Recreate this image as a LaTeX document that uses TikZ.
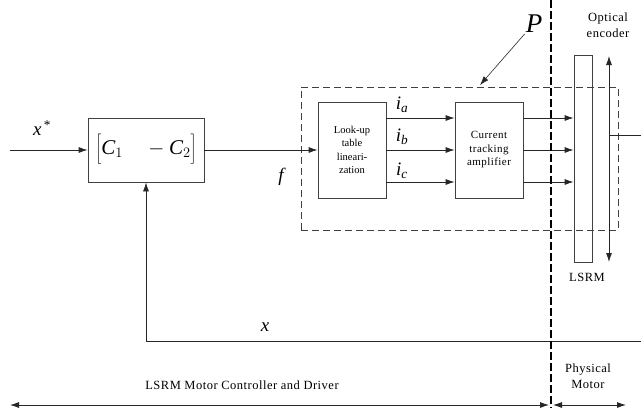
\documentclass[tikz,border=0pt]{standalone}
\usepackage{fontspec}
\setmainfont{Liberation Serif}
\newfontfamily\spacedfont[LetterSpace=4]{Liberation Serif}
\usepackage{tikz}
\usetikzlibrary{positioning, arrows.meta}

\begin{document}
\begin{tikzpicture}[
  x=1pt, y=-1pt,
  >={Latex[length=9pt,width=6pt]},
  block/.style={rectangle, draw=black!75, line width=0.8pt, align=center, inner sep=0pt},
  wire/.style={draw=black!85, line width=0.8pt},
  sig/.style={wire, ->},
  lbl/.style={font=\fontsize{12.5}{16.5}\spacedfont, align=center},
  var/.style={font=\fontsize{19}{19}\selectfont\itshape, inner sep=1pt}
]
\useasboundingbox (0,0) rectangle (641,408);

% Plant boundary
\node[draw=black!75, line width=0.8pt, dash pattern=on 7pt off 4pt, minimum width=317pt, minimum height=143pt, inner sep=0pt] (pbox) at (459.5,158.5) {};

% Controller
\node[block, minimum width=116pt, minimum height=64pt, font=\fontsize{21}{21}\selectfont] (ctrl) at (146,150) {$\left[\vrule height 19pt depth 11pt width 0pt\mbox{\itshape C}_1\quad -\mbox{\itshape C}_2\right]$};

% Look-up table
\node[block, minimum width=68pt, minimum height=96pt, font=\fontsize{10.5}{13.5}\selectfont] (lut) at (352,150) {Look-up\\table\\lineari-\\zation};

% Amplifier
\node[block, minimum width=68pt, minimum height=96pt, font=\fontsize{11}{13.5}\spacedfont] (amp) at (489,150) {Current\\tracking\\amplifier};

% Motor
\node[block, minimum width=18pt, minimum height=207pt] (lsrm) at (583,158.5) {};

% Signal names
\node[var] (xref) at (42,128) {x\textsuperscript{\upshape\,*}};
\node[var] (flbl) at (281,177) {f};
\node[var] (ialbl) at (402,105) {i\textsubscript{a}};
\node[var] (iblbl) at (402,137) {i\textsubscript{b}};
\node[var] (iclbl) at (402,171) {i\textsubscript{c}};
\node[var, font=\fontsize{27}{27}\selectfont\itshape] (plbl) at (534,24) {P};
\node[var] (xlbl) at (265,327) {x};

% Texts
\node[lbl] (enclbl) at (608,25) {Optical\\encoder};
\node[lbl] (lsrmlbl) at (587,277) {LSRM};
\node[lbl] (physlbl) at (588,376) {Physical\\Motor};
\node[lbl] (drvlbl) at (242,385) {LSRM Motor Controller and Driver};

% Free ends
\coordinate (xin) at (10,150);
\coordinate (ptip) at (480,85);
\coordinate (enctop) at (609,56);
\coordinate (encbot) at (609,262);
\coordinate (encout) at (609,135);
\coordinate (outr) at (641,135);
\coordinate (fbr) at (641,341);
\coordinate (divtop) at (551,0);
\coordinate (divbot) at (551,408);
\coordinate (spanl) at (10,405);
\coordinate (spanml) at (549,405);
\coordinate (spanmr) at (553,405);
\coordinate (spanr) at (626,405);

% Edges
\draw[sig] (xin) -- (ctrl);
\draw[sig] (ctrl) -- (lut);
\draw[sig] ([yshift=32pt]lut.east) -- ([yshift=32pt]amp.west);
\draw[sig] (lut.east) -- (amp.west);
\draw[sig] ([yshift=-32pt]lut.east) -- ([yshift=-32pt]amp.west);
\draw[sig] ([yshift=32pt]amp.east) -- ([yshift=32pt]amp.east -| lsrm.west);
\draw[sig] (amp.east) -- (amp.east -| lsrm.west);
\draw[sig] ([yshift=-32pt]amp.east) -- ([yshift=-32pt]amp.east -| lsrm.west);
\draw[wire, <->] (encbot) -- (enctop);
\draw[wire] (encout) -- (outr);
\draw[sig] (fbr) -- (ctrl.south |- fbr) -- (ctrl.south);
\draw[wire, line width=0.6pt, ->] (plbl.south west) -- (ptip);

% Divider
\draw[line width=2.6pt, dash pattern=on 8pt off 3pt] (divtop) -- (divbot);
\draw[wire, <->] (spanl) -- (spanml);
\draw[wire, <->] (spanmr) -- (spanr);

\end{tikzpicture}
\end{document}
